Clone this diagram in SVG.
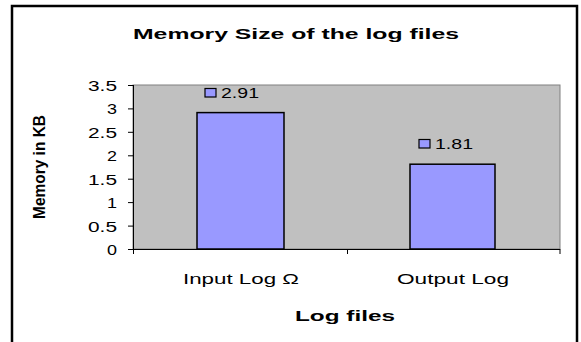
<svg xmlns="http://www.w3.org/2000/svg" width="581" height="342" viewBox="0 0 581 342">
<style>
.t{font-family:"Liberation Sans",Arial,sans-serif;fill:#000}
.tick{font-size:14px;text-anchor:end}
.lbl{font-size:14.5px}
.cat{font-size:15px;text-anchor:middle}
.bold{font-weight:bold}
.bar{fill:#9999FF;stroke:#000;stroke-width:1.5}
.key{fill:#9999FF;stroke:#000;stroke-width:1.2}
.ax{stroke:#000;stroke-width:1;fill:none}
</style>
<rect x="0" y="0" width="581" height="342" fill="#fff"/>
<rect id="frame" x="12" y="6" width="565" height="345" fill="#fff" stroke="#000" stroke-width="2.5"/>
<text id="title" class="t bold" x="296" y="39" font-size="15" text-anchor="middle" textLength="326" lengthAdjust="spacingAndGlyphs">Memory Size of the log files</text>
<g id="plot">
<rect x="133" y="85" width="427" height="164" fill="#C0C0C0" stroke="#808080" stroke-width="1"/>
</g>
<g id="axes">
<path class="ax" d="M133.5 85V249.5H560M128 85.5H133M128 108.9H133M128 132.3H133M128 155.8H133M128 179.2H133M128 202.6H133M128 226.1H133M128 249.5H133M133.5 249V254M347.5 249V254M560 249V254"/>
<g class="t tick">
<text x="117" y="90.5" textLength="29" lengthAdjust="spacingAndGlyphs">3.5</text>
<text x="117" y="114" textLength="10" lengthAdjust="spacingAndGlyphs">3</text>
<text x="117" y="137.5" textLength="29" lengthAdjust="spacingAndGlyphs">2.5</text>
<text x="117" y="161" textLength="10" lengthAdjust="spacingAndGlyphs">2</text>
<text x="117" y="184.5" textLength="29" lengthAdjust="spacingAndGlyphs">1.5</text>
<text x="117" y="208" textLength="10" lengthAdjust="spacingAndGlyphs">1</text>
<text x="117" y="231.5" textLength="29" lengthAdjust="spacingAndGlyphs">0.5</text>
<text x="117" y="255" textLength="10" lengthAdjust="spacingAndGlyphs">0</text>
</g>
</g>
<g id="bar-input">
<rect class="bar" x="197" y="112.6" width="87" height="136.4"/>
<rect class="key" x="205" y="88.5" width="11" height="8.5"/>
<text class="t lbl" x="221" y="98" textLength="38" lengthAdjust="spacingAndGlyphs">2.91</text>
</g>
<g id="bar-output">
<rect class="bar" x="410" y="164.2" width="85" height="84.8"/>
<rect class="key" x="419" y="139.5" width="11" height="8.5"/>
<text class="t lbl" x="435" y="149" textLength="38" lengthAdjust="spacingAndGlyphs">1.81</text>
</g>
<g id="labels">
<text class="t cat" x="241" y="284" textLength="116" lengthAdjust="spacingAndGlyphs">Input Log Ω</text>
<text class="t cat" x="453" y="284" textLength="112" lengthAdjust="spacingAndGlyphs">Output Log</text>
<text class="t cat bold" x="345" y="321" textLength="100" lengthAdjust="spacingAndGlyphs">Log files</text>
<text class="t bold" font-size="16.5" text-anchor="middle" textLength="104" lengthAdjust="spacingAndGlyphs" transform="translate(45,167) rotate(-90)">Memory in KB</text>
</g>
</svg>
